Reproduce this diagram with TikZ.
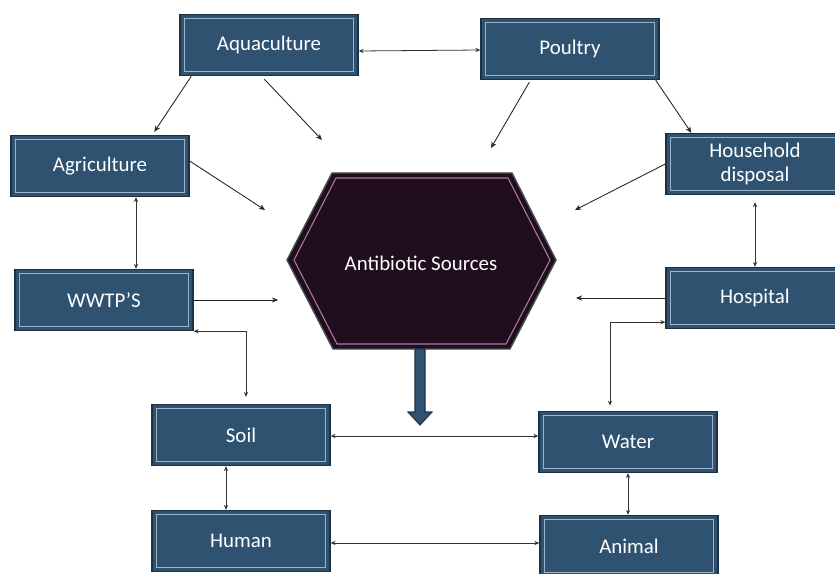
\documentclass[tikz,border=0pt]{standalone}
\usepackage{fontspec}
\setmainfont{Carlito}
\usetikzlibrary{arrows.meta,calc}

\definecolor{boxfill}{HTML}{2E5270}
\definecolor{boxedge}{HTML}{1C3244}
\definecolor{boxline}{HTML}{9BB4C8}
\definecolor{hexfill}{HTML}{200E1E}
\definecolor{hexline}{HTML}{A97BA6}

\tikzset{
  srcbox/.style={draw=boxedge, line width=0.8pt, fill=boxfill, text=white,
    minimum width=3.56cm, minimum height=1.22cm, inner sep=0pt, align=center,
    path picture={\draw[boxline, line width=0.6pt]
      ([shift={(2.3pt,2.3pt)}]path picture bounding box.south west) rectangle
      ([shift={(-2.3pt,-2.3pt)}]path picture bounding box.north east);}},
  link/.style={line width=0.5pt, black!85, -{Stealth[length=3.5pt,width=3pt]}},
  twoway/.style={line width=0.45pt, black!80, {Stealth[length=2.8pt,width=2.4pt]}-{Stealth[length=2.8pt,width=2.4pt]}}
}

\begin{document}
\begin{tikzpicture}[x=0.02cm, y=-0.02cm, font=\fontsize{11.9}{13.6}\selectfont]

    % 0. Рамка картинки
    \useasboundingbox (0,0) rectangle (835,574);

    % 1. Шестиугольник в центре
    \draw[draw=black!70, line width=0.8pt, fill=hexfill]
        (287,260) -- (332,173) -- (512,173) -- (556,260) -- (510,349) -- (333,349) -- cycle;
    \draw[hexline, line width=0.6pt]
        (294,260) -- (336,178) -- (508,178) -- (550,260) -- (506,344) -- (337,344) -- cycle;
    \node[text=white] (src) at (421,263) {Antibiotic Sources};

    % 2. Толстая стрелка вниз
    \draw[boxedge, line width=0.6pt, fill=boxfill]
        (415,349) -- (425,349) -- (425,412) -- (432,412) -- (420,425)
        -- (408,412) -- (415,412) -- cycle;

    % 3. Прямоугольники
    \node[srcbox] (aqua) at (269,45)  {Aquaculture};
    \node[srcbox] (poul) at (570,49)  {Poultry};
    \node[srcbox] (agri) at (100,166) {Agriculture};
    \node[srcbox] (hous) at (755,164) {Household\\disposal};
    \node[srcbox] (wwtp) at (104,300) {WWTP’S};
    \node[srcbox] (hosp) at (755,298) {Hospital};
    \node[srcbox] (soil) at (241,435) {Soil};
    \node[srcbox] (watr) at (628,442) {Water};
    \node[srcbox] (humn) at (241,541) {Human};
    \node[srcbox] (anim) at (629,546) {Animal};

    % 4. Концы стрелок у шестиугольника
    \coordinate (c1) at (322,140);
    \coordinate (c2) at (491,148);
    \coordinate (c3) at (265,210);
    \coordinate (c4) at (575,210);
    \coordinate (c5) at (278,300);
    \coordinate (c6) at (576,298);

    % 5. Стрелки к источникам
    \draw[link] ($(aqua.south west)+(85,3)$) -- (c1);
    \draw[link] ($(poul.south west)+(49,2)$) -- (c2);
    \draw[link] ($(agri.east)+(0,-5)$) -- (c3);
    \draw[link] (hous.west) -- (c4);
    \draw[link] (wwtp.east) -- (c5);
    \draw[link] (hosp.west) -- (c6);

    % 6. Точки выхода связей
    \coordinate (agri-out) at ($(agri.south)+(36,0)$);
    \coordinate (soil-out) at ($(soil.east)+(0,1)$);
    \coordinate (soil-low) at ($(soil.south)+(-15,0)$);
    \coordinate (humn-out) at ($(humn.east)+(0,2)$);

    % 7. Связи между прямоугольниками
    \draw[twoway] ($(aqua.east)+(0,6)$) -- ($(poul.west)+(0,1)$);
    \draw[link] ($(aqua.south west)+(12,0)$) -- ($(agri.north west)+(144,-3)$);
    \draw[link] ($(poul.south east)+(-4,0)$) -- ($(hous.north west)+(26,0)$);
    \draw[twoway] (agri-out) -- (agri-out |- wwtp.north);
    \draw[twoway, shorten <=4pt] (hous.south) -- (hosp.north);
    \draw[twoway, shorten >=4pt] (wwtp.south east) -| ($(soil.north)+(5,0)$);
    \draw[twoway, shorten >=3pt] ($(hosp.south west)+(0,-7)$) -| ($(watr.north)+(-18,0)$);
    \draw[twoway] (soil-out) -- (soil-out -| watr.west);
    \draw[twoway] (soil-low) -- (soil-low |- humn.north);
    \draw[twoway] (humn-out) -- (humn-out -| anim.west);
    \draw[twoway] (watr.south) -- (watr.south |- anim.north);

\end{tikzpicture}
\end{document}
